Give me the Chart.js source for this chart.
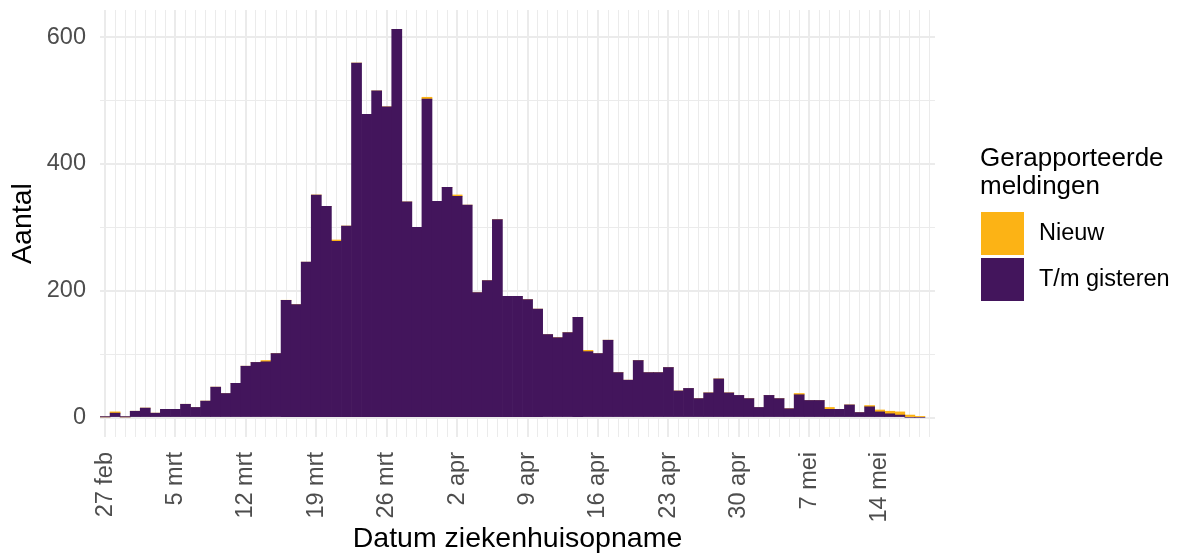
<!DOCTYPE html>
<html>
<head>
<meta charset="utf-8">
<script src="https://cdn.jsdelivr.net/npm/chart.js@4"></script>
<style>
  html, body { margin: 0; padding: 0; background: #fff; }
  #wrap { width: 1179px; height: 556px; }
</style>
</head>
<body>
<div id="wrap"><canvas id="chart" width="1179" height="556"></canvas></div>
<script>
const days = [
  "27 feb", "28 feb", "29 feb",
  "1 mrt", "2 mrt", "3 mrt", "4 mrt", "5 mrt", "6 mrt", "7 mrt", "8 mrt", "9 mrt", "10 mrt",
  "11 mrt", "12 mrt", "13 mrt", "14 mrt", "15 mrt", "16 mrt", "17 mrt", "18 mrt", "19 mrt", "20 mrt",
  "21 mrt", "22 mrt", "23 mrt", "24 mrt", "25 mrt", "26 mrt", "27 mrt", "28 mrt", "29 mrt", "30 mrt", "31 mrt",
  "1 apr", "2 apr", "3 apr", "4 apr", "5 apr", "6 apr", "7 apr", "8 apr", "9 apr", "10 apr",
  "11 apr", "12 apr", "13 apr", "14 apr", "15 apr", "16 apr", "17 apr", "18 apr", "19 apr", "20 apr",
  "21 apr", "22 apr", "23 apr", "24 apr", "25 apr", "26 apr", "27 apr", "28 apr", "29 apr", "30 apr",
  "1 mei", "2 mei", "3 mei", "4 mei", "5 mei", "6 mei", "7 mei", "8 mei", "9 mei", "10 mei",
  "11 mei", "12 mei", "13 mei", "14 mei", "15 mei", "16 mei", "17 mei", "18 mei", "19 mei"
];
const weekLabels = ["27 feb", "5 mrt", "12 mrt", "19 mrt", "26 mrt", "2 apr", "9 apr", "16 apr", "23 apr", "30 apr", "7 mei", "14 mei"];
const yTicks = [0, 100, 200, 300, 400, 500, 600];

// t/m gisteren gemeld
const gisteren = [
  1, 7, 1, 10, 15, 7, 13, 13, 21, 16,
  26, 48, 38, 54, 81, 87, 88, 101, 185, 178,
  245, 351, 333, 278, 302, 559, 478, 515, 490, 612,
  340, 300, 502, 341, 363, 349, 335, 197, 216, 312,
  191, 191, 186, 171, 131, 126, 134, 158, 104, 101,
  122, 71, 59, 90, 71, 71, 79, 42, 46, 30,
  39, 61, 39, 35, 30, 16, 35, 30, 14, 36,
  27, 27, 13, 13, 20, 8, 17, 9, 6, 4,
  0, 0
];
// nieuw gemeld
const nieuw = [
  0, 2, 0, 0, 0, 0, 0, 0, 0, 0,
  0, 0, 0, 0, 0, 0, 2, 0, 0, 0,
  0, 0, 0, 2, 0, 0, 0, 0, 0, 0,
  0, 0, 3, 0, 0, 2, 0, 0, 0, 0,
  0, 0, 0, 0, 0, 0, 0, 0, 2, 0,
  0, 0, 0, 0, 0, 0, 0, 0, 0, 0,
  0, 0, 0, 0, 0, 0, 0, 0, 0, 2,
  0, 0, 3, 0, 0, 0, 2, 3, 4, 5,
  4, 2
];

const purple = "#43155c";
const orange = "#fcb315";
const fontFamily = '"Liberation Sans", Arial, Helvetica, sans-serif';

const legendPlugin = {
  id: "ggLegend",
  afterDraw(chart) {
    const ctx = chart.ctx;
    ctx.save();
    ctx.fillStyle = "#000";
    ctx.textAlign = "left";
    ctx.textBaseline = "alphabetic";
    ctx.font = "26px " + fontFamily;
    ctx.fillText("Gerapporteerde", 980, 166);
    ctx.fillText("meldingen", 980, 194);

    // legend order: top of the stack first
    const sets = chart.data.datasets.slice().reverse();
    ctx.font = "23.5px " + fontFamily;
    ctx.textBaseline = "middle";
    sets.forEach((ds, i) => {
      const y = 212 + i * 46;
      ctx.fillStyle = ds.backgroundColor;
      ctx.fillRect(981, y, 43, 43);
      ctx.fillStyle = "#000";
      ctx.fillText(ds.label, 1039, y + 22);
    });
    ctx.restore();
  },
};

const data = {
  labels: days,
  datasets: [
    {
      label: "T/m gisteren",
      data: gisteren,
      backgroundColor: purple,
      barPercentage: 1,
      categoryPercentage: 1,
      borderWidth: 0,
    },
    {
      label: "Nieuw",
      data: nieuw,
      backgroundColor: orange,
      barPercentage: 1,
      categoryPercentage: 1,
      borderWidth: 0,
    },
  ],
};

const config = {
  type: "bar",
  data: data,
  options: {
    responsive: false,
    animation: false,
    layout: {
      padding: { top: 10, right: 244, bottom: 0, left: 0 },
    },
    plugins: {
      legend: { display: false },
      tooltip: { enabled: false },
    },
    scales: {
      x: {
        stacked: true,
        offset: true,
        grid: {
          offset: false,
          color: "#ebebeb",
          lineWidth: (c) => (c.index % 7 === 0 ? 2 : 1),
          drawTicks: false,
        },
        border: { display: false },
        ticks: {
          autoSkip: false,
          maxRotation: 90,
          minRotation: 90,
          padding: 15,
          color: "#4d4d4d",
          font: { family: fontFamily, size: 23.5 },
          callback: (value, index) => (index % 7 === 0 ? weekLabels[index / 7] : ""),
        },
        title: {
          display: true,
          text: "Datum ziekenhuisopname",
          color: "#000",
          font: { family: fontFamily, size: 28.5 },
          padding: { top: 0, bottom: 0 },
        },
        afterFit: (scale) => {
          scale.height = 119;
          scale.paddingLeft = 0;
          scale.paddingRight = 0;
        },
      },
      y: {
        stacked: true,
        min: -30.6,
        max: 642.6,
        afterBuildTicks: (scale) => {
          scale.ticks = yTicks.map((v) => ({ value: v }));
        },
        grid: {
          color: "#ebebeb",
          lineWidth: (c) => (c.tick && c.tick.value % 200 === 0 ? 2 : 1),
          drawTicks: false,
        },
        border: { display: false },
        ticks: {
          padding: 14,
          color: "#4d4d4d",
          font: { family: fontFamily, size: 23.5 },
          callback: (value) => (value % 200 === 0 ? value : ""),
        },
        title: {
          display: true,
          text: "Aantal",
          color: "#000",
          font: { family: fontFamily, size: 28.5 },
          padding: { top: 6, bottom: 0 },
        },
        afterFit: (scale) => {
          scale.width = 100;
          scale.paddingTop = 0;
          scale.paddingBottom = 0;
        },
      },
    },
  },
  plugins: [legendPlugin],
};

const chart = new Chart(document.querySelector("#chart").getContext("2d"), config);
</script>
</body>
</html>
